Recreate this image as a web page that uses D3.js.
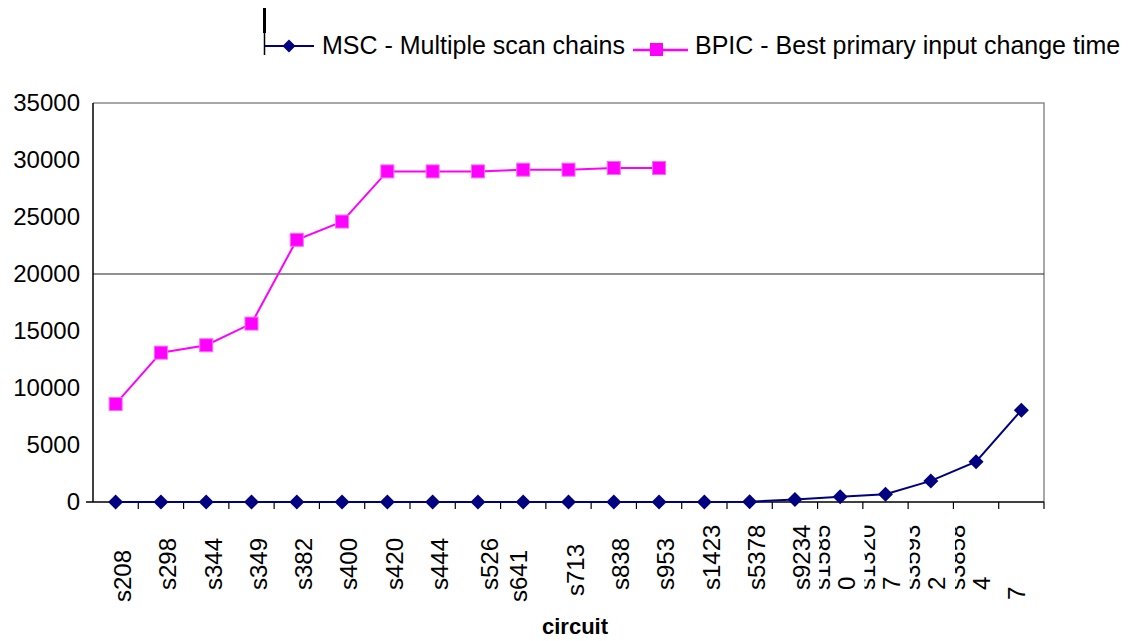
<!DOCTYPE html>
<html>
<head>
<meta charset="utf-8">
<script src="https://cdn.jsdelivr.net/npm/d3@7"></script>
<style>
  html, body { margin: 0; padding: 0; background: #fff; }
  svg { display: block; font-family: "Liberation Sans", Arial, Helvetica, sans-serif; }
</style>
</head>
<body>
<svg id="chart" width="1131" height="641"></svg>
<script>
// ---------------- data ----------------
const categories = ["s208","s298","s344","s349","s382","s400","s420","s444","s526","s641",
  "s713","s838","s953","s1423","s5378","s9234","s15850","s13207","s35932","s38584","s38417"];
// tick labels as they appear (wrapped into lines)
const tickLabels = [["s208"],["s298"],["s344"],["s349"],["s382"],["s400"],["s420"],["s444"],
  ["s526"],["s641"],["s713"],["s838"],["s953"],["s1423"],["s5378"],["s9234"],
  ["s1585","0"],["s1320","7"],["s3593","2"],["s3858","4"],["","7"]];
const mscValues  = [0,0,0,0,0,0,0,0,0,0,0,0,0,0,30,220,460,690,1850,3530,8050];
const bpicValues = [8600,13100,13750,15650,23000,24600,29000,29000,29000,29150,29150,29300,29300];
const yTicks = [0,5000,10000,15000,20000,25000,30000,35000];
const gridValues = [20000];
const seriesNames = ["MSC - Multiple scan chains","BPIC - Best primary input change time"];
const axisTitle = "circuit";

// ---------------- layout ----------------
const svg = d3.select("#chart");
const L = 93, R = 1044, T = 103, B = 502;
const x = d3.scaleBand().domain(categories).range([L, R]).padding(0);
const bw = x.bandwidth();
const xc = c => x(c) + bw / 2;
const y = d3.scaleLinear().domain([0, 35000]).range([B, T]);
const NAVY = "#000080", PINK = "#ff00ff";

// plot frame (top & right gray)
svg.append("path")
  .attr("d", `M${L},${y(35000)}H${R}V${B}`)
  .attr("fill", "none").attr("stroke", "#8c8c8c").attr("stroke-width", 1.5);

// gridline(s)
svg.selectAll(".grid").data(gridValues).join("line")
  .attr("x1", L).attr("x2", R).attr("y1", d => y(d)).attr("y2", d => y(d))
  .attr("stroke", "#222").attr("stroke-width", 1.2);

// y axis labels
const yAxis = d3.axisLeft(y).tickValues(yTicks).tickSize(0).tickPadding(13).tickFormat(d3.format("d"));
const gy = svg.append("g").attr("transform", `translate(${L},0)`).call(yAxis);
gy.select(".domain").remove();
gy.selectAll("text").attr("font-size", 24).attr("fill", "#000")
  .attr("font-family", "'Liberation Sans', Arial, sans-serif");

// left axis line
svg.append("line").attr("x1", L).attr("x2", L).attr("y1", y(35000)).attr("y2", B)
  .attr("stroke", "#000").attr("stroke-width", 1.5);
// x axis line
svg.append("line").attr("x1", L - 7).attr("x2", R).attr("y1", B).attr("y2", B)
  .attr("stroke", "#000").attr("stroke-width", 1.5);
// x ticks at band boundaries
const bounds = categories.slice(1).map(c => x(c)).concat([R]);
svg.selectAll(".xt").data(bounds).join("line")
  .attr("x1", d => d).attr("x2", d => d).attr("y1", B).attr("y2", B + 7)
  .attr("stroke", "#000").attr("stroke-width", 1.2);

// x tick labels (rotated)
const defs = svg.append("defs");
const FS = 24;
tickLabels.forEach((lines, i) => {
  const cx = xc(categories[i]);
  const name = categories[i];
  let bottom = 590;
  if (name === "s208" || name === "s641") bottom = 602;
  if (name === "s713") bottom = 596;
  if (lines.length === 1) {
    let dx = 7;
    if (name === "s526") dx = 12;
    if (name === "s641") dx = -5;
    svg.append("text")
      .attr("transform", `translate(${cx + dx},${bottom}) rotate(-90)`)
      .attr("dy", "0.35em").attr("font-size", FS).attr("fill", "#000")
      .text(lines[0]);
  } else {
    const last = i === tickLabels.length - 1;
    const c1 = cx - 19, c2 = last ? cx - 5 : cx + 6;
    const b2 = last ? 600 : bottom;
    if (lines[0]) {
      const id = "clip" + i;
      defs.append("clipPath").attr("id", id).append("rect")
        .attr("x", c1 - 2).attr("y", 500).attr("width", 30).attr("height", 140);
      svg.append("g").attr("clip-path", `url(#${id})`)
        .append("text")
        .attr("transform", `translate(${c1},${bottom}) rotate(-90)`)
        .attr("dy", "0.35em").attr("font-size", FS).attr("fill", "#000")
        .text(lines[0]);
    }
    svg.append("text")
      .attr("transform", `translate(${c2},${b2}) rotate(-90)`)
      .attr("dy", "0.35em").attr("font-size", FS).attr("fill", "#000")
      .text(lines[1]);
  }
});

// axis title
svg.append("text").attr("x", 575).attr("y", 634).attr("text-anchor", "middle")
  .attr("font-size", 22).attr("font-weight", "bold").attr("fill", "#000").text(axisTitle);

// ---------------- series ----------------
const line = d3.line().x(d => xc(d.c)).y(d => y(d.v));
const msc = mscValues.map((v, i) => ({ c: categories[i], v }));
const bpic = bpicValues.map((v, i) => ({ c: categories[i], v }));

const diamond = s => `M0,${-s}L${s},0L0,${s}L${-s},0Z`;

svg.append("path").datum(bpic).attr("d", line)
  .attr("fill", "none").attr("stroke", PINK).attr("stroke-width", 2);
svg.selectAll(".sq").data(bpic).join("rect")
  .attr("x", d => xc(d.c) - 6.5).attr("y", d => y(d.v) - 6.5)
  .attr("width", 13).attr("height", 13)
  .attr("fill", PINK).attr("stroke", "#ff66ff").attr("stroke-width", 1);

svg.append("path").datum(msc).attr("d", line)
  .attr("fill", "none").attr("stroke", NAVY).attr("stroke-width", 2);
svg.selectAll(".dm").data(msc).join("path")
  .attr("transform", d => `translate(${xc(d.c)},${y(d.v)})`)
  .attr("d", diamond(7.5)).attr("fill", NAVY);

// ---------------- legend ----------------
const lg = svg.append("g");
lg.append("line").attr("x1", 264.5).attr("x2", 264.5).attr("y1", 8).attr("y2", 33)
  .attr("stroke", "#000").attr("stroke-width", 3);
lg.append("line").attr("x1", 264.5).attr("x2", 264.5).attr("y1", 33).attr("y2", 55)
  .attr("stroke", "#000").attr("stroke-width", 1.5);
// MSC
lg.append("line").attr("x1", 265).attr("x2", 314).attr("y1", 46).attr("y2", 46)
  .attr("stroke", NAVY).attr("stroke-width", 2);
lg.append("path").attr("transform", "translate(289,46)").attr("d", diamond(6.5)).attr("fill", NAVY);
lg.append("text").attr("x", 322).attr("y", 54).attr("font-size", 25).attr("fill", "#000").text(seriesNames[0]);
// BPIC
lg.append("line").attr("x1", 633).attr("x2", 688).attr("y1", 50).attr("y2", 50)
  .attr("stroke", PINK).attr("stroke-width", 2.5);
lg.append("rect").attr("x", 650).attr("y", 43).attr("width", 13).attr("height", 13)
  .attr("fill", PINK);
lg.append("text").attr("x", 695).attr("y", 54).attr("font-size", 25).attr("fill", "#000").text(seriesNames[1]);
</script>
</body>
</html>
